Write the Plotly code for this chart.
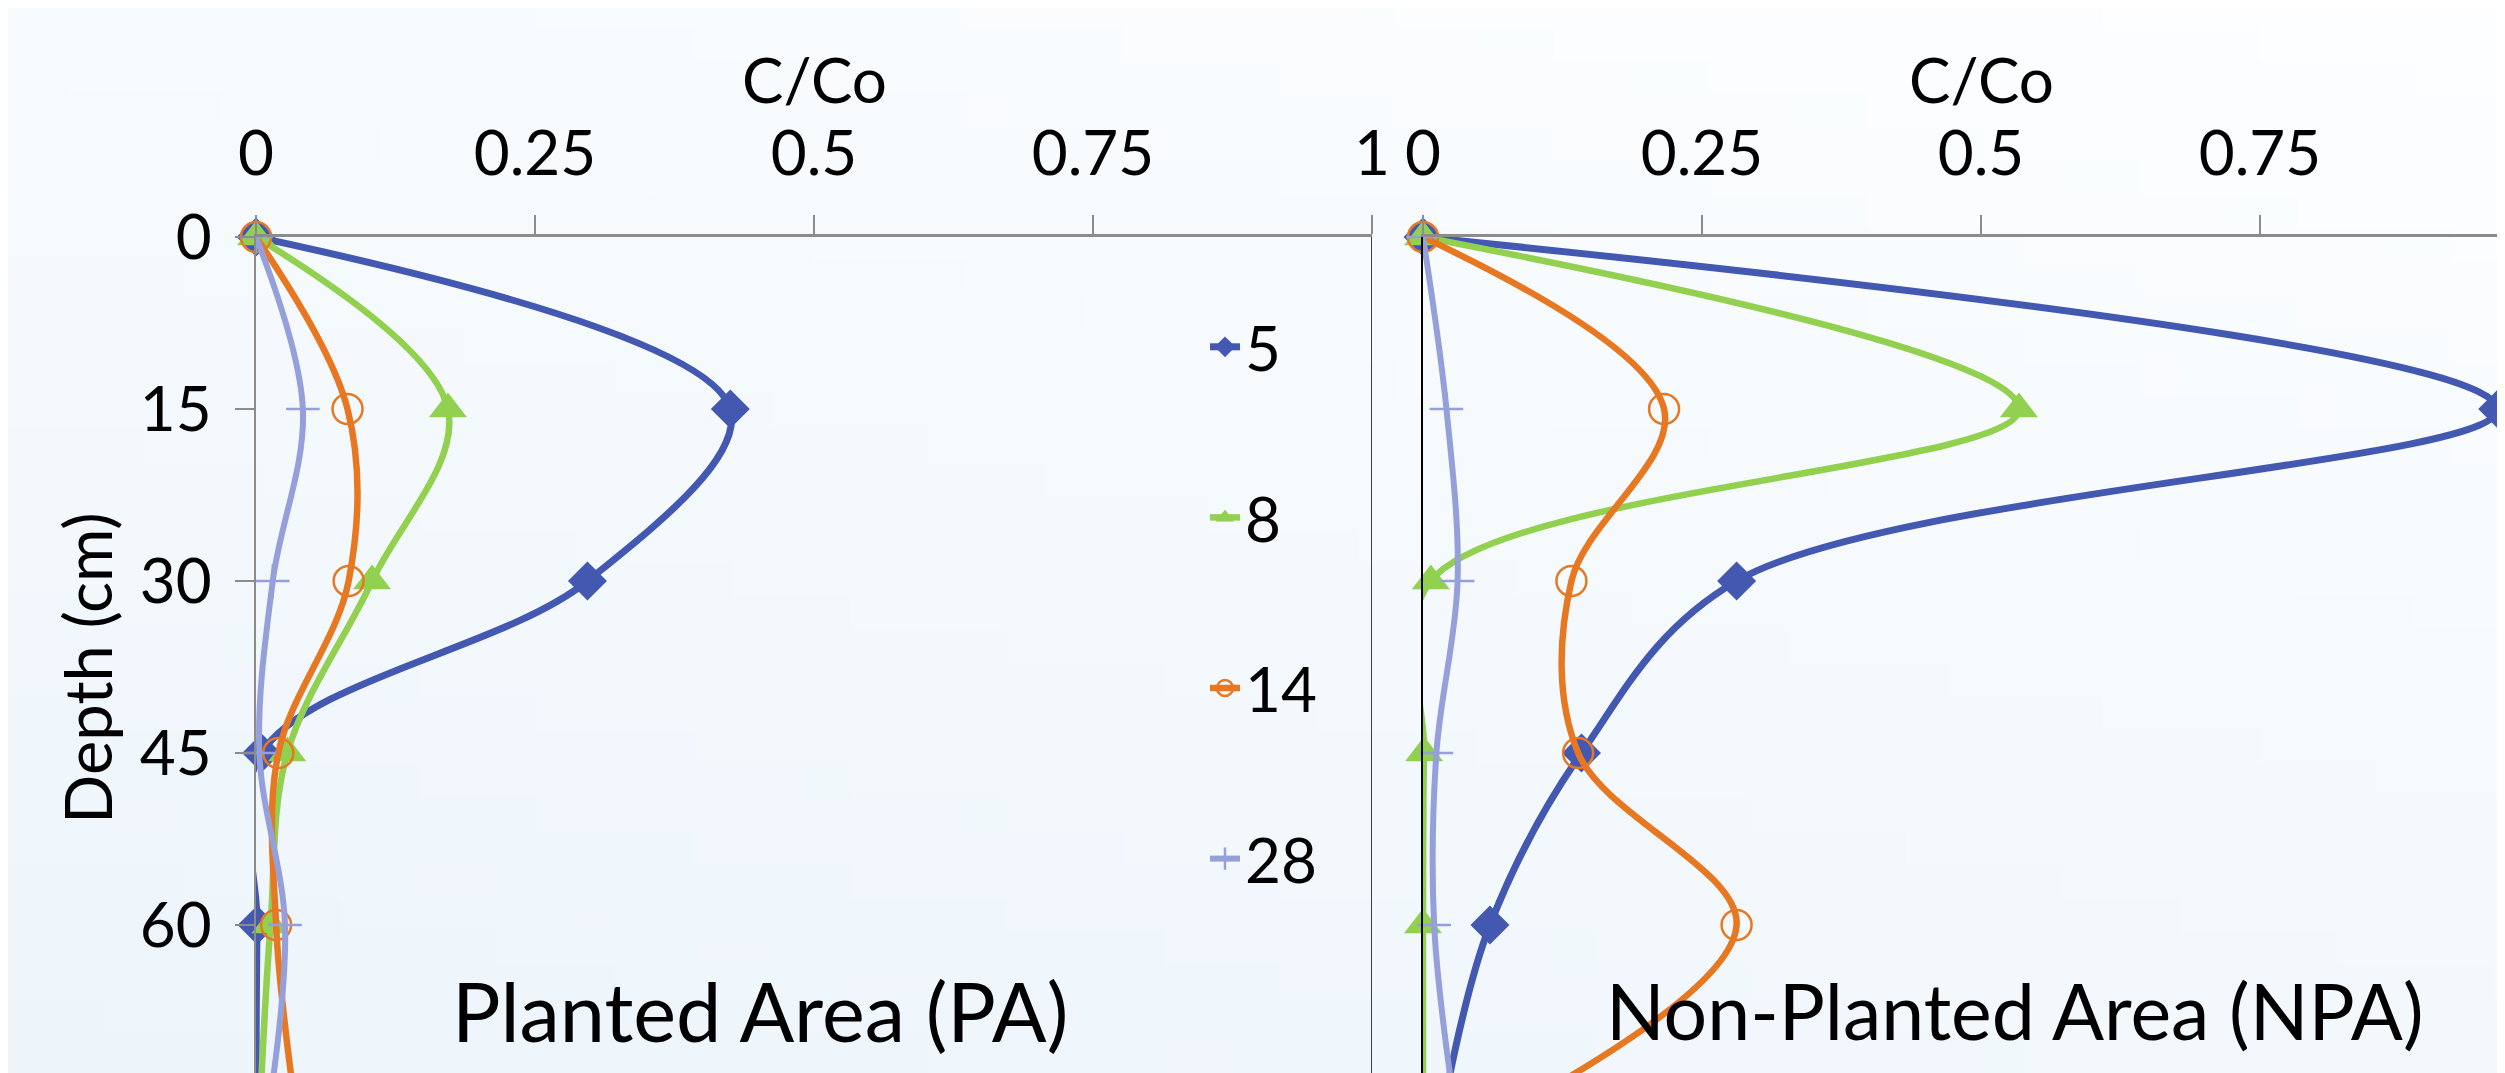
import base64
import struct
import zlib

import plotly.graph_objects as go

# ---------------- data ----------------
depth = [0, 15, 30, 45, 60, 75]
series_names = ["5", "8", "14", "28"]

# Planted Area (PA)
pa_5 = [0.0, 0.425, 0.297, 0.005, 0.001, 0.000]
pa_8 = [0.0, 0.172, 0.104, 0.028, 0.013, 0.004]
pa_14 = [0.0, 0.082, 0.083, 0.020, 0.018, 0.034]
pa_28 = [0.0, 0.042, 0.015, 0.003, 0.026, 0.013]

# Non-Planted Area (NPA)
npa_5 = [0.0, 0.963, 0.281, 0.142, 0.060, 0.020]
npa_8 = [0.0, 0.534, 0.007, 0.001, 0.000, 0.000]
npa_14 = [0.0, 0.216, 0.133, 0.139, 0.281, 0.100]
npa_28 = [0.0, 0.021, 0.031, 0.012, 0.010, 0.027]

x_tickvals = [0, 0.25, 0.5, 0.75, 1]
x_ticktext = ["0", "0.25", "0.5", "0.75", "1"]
y_tickvals = [0, 15, 30, 45, 60, 75]

# ---------------- styling ----------------
W, H = 2505, 1073
OFF = 8  # page body margin: figure is drawn at (8, 8) in the page
FONT = "Lato"
colors = ["#4358B0", "#92D050", "#E87722", "#95A0DA"]
symbols = ["diamond", "triangle-up", "circle-open", "cross-thin"]
msizes = [30, 33, 30, 24]
lwidths = [7, 6.5, 6.5, 6]


def px(X):
    """page x -> paper fraction"""
    return (X - OFF) / W


def py(Y):
    """page y -> paper fraction"""
    return 1 - (Y - OFF) / H


# pixel geometry (page coordinates measured on the reference)
x0_left, x1_left = 256, 1372
x0_right = 1423
px_per_unit = (x1_left - x0_left)
y_top = 237
px_per_cm = 11.467
y_bottom_depth = (H + OFF - y_top) / px_per_cm
right_max = (W + OFF - x0_right) / px_per_unit


# ---------------- background gradient (data-URI PNG) ----------------
def png_data_uri(w, h, fn):
    rows = []
    for yy in range(h):
        row = bytearray([0])
        for xx in range(w):
            row.extend(fn(xx / (w - 1), yy / (h - 1)))
        rows.append(bytes(row))
    raw = b"".join(rows)

    def chunk(tag, data):
        return (struct.pack(">I", len(data)) + tag + data
                + struct.pack(">I", zlib.crc32(tag + data) & 0xFFFFFFFF))

    png = (b"\x89PNG\r\n\x1a\n"
           + chunk(b"IHDR", struct.pack(">IIBBBBB", w, h, 8, 2, 0, 0, 0))
           + chunk(b"IDAT", zlib.compress(raw))
           + chunk(b"IEND", b""))
    return "data:image/png;base64," + base64.b64encode(png).decode()


c_light = (253, 254, 255)
c_dark = (237, 245, 251)


def grad(u, v):
    t = 0.65 * v + 0.35 * (1 - u)
    t = max(0.0, min(1.0, t))
    return tuple(int(round(a + (b - a) * t)) for a, b in zip(c_light, c_dark))


bg_uri = png_data_uri(64, 32, grad)

# ---------------- figure ----------------
fig = go.Figure()

pa_vals = [pa_5, pa_8, pa_14, pa_28]
npa_vals = [npa_5, npa_8, npa_14, npa_28]


def make_marker(i):
    return dict(symbol=symbols[i], size=msizes[i], color=colors[i],
                line=dict(color=colors[i],
                          width=2.5 if symbols[i] in ("cross-thin", "circle-open") else 0))


for i, name in enumerate(series_names):
    fig.add_trace(go.Scatter(
        x=pa_vals[i], y=depth, name=name, mode="lines+markers",
        line=dict(color=colors[i], width=lwidths[i], shape="spline", smoothing=1.0),
        marker=make_marker(i), xaxis="x", yaxis="y", cliponaxis=False,
        legendgroup=name, showlegend=True,
    ))
for i, name in enumerate(series_names):
    fig.add_trace(go.Scatter(
        x=npa_vals[i], y=depth, name=name, mode="lines+markers",
        line=dict(color=colors[i], width=lwidths[i], shape="spline", smoothing=1.0),
        marker=make_marker(i), xaxis="x2", yaxis="y2", cliponaxis=False,
        legendgroup=name, showlegend=False,
    ))

tickfont = dict(family=FONT, size=62, color="black")
axis_gray = "#8C8C8C"

common_x = dict(
    side="top", showgrid=False, zeroline=False, showline=True, automargin=False,
    linecolor=axis_gray, linewidth=2.5, ticks="outside", ticklen=19,
    tickwidth=2, tickcolor=axis_gray, tickvals=x_tickvals, ticktext=x_ticktext,
    tickfont=tickfont, ticklabelstandoff=15,
)

fig.update_layout(
    width=W, height=H,
    margin=dict(l=0, r=0, t=0, b=0, autoexpand=False),
    paper_bgcolor="white",
    plot_bgcolor="rgba(0,0,0,0)",
    font=dict(family=FONT, color="black"),
    xaxis=dict(domain=[px(x0_left), px(x1_left)], range=[0, 1], anchor="y", **common_x),
    xaxis2=dict(domain=[px(x0_right), 1.0], range=[0, right_max], anchor="y2", **common_x),
    yaxis=dict(
        domain=[0, py(y_top)], range=[y_bottom_depth, 0], anchor="x", automargin=False,
        showgrid=False, zeroline=False, showline=True, linecolor=axis_gray, linewidth=2,
        ticks="outside", ticklen=19, tickwidth=2, tickcolor=axis_gray,
        tickvals=y_tickvals, tickfont=tickfont, ticklabelstandoff=11,
    ),
    yaxis2=dict(
        domain=[0, py(y_top)], range=[y_bottom_depth, 0], anchor="x2", automargin=False,
        showgrid=False, zeroline=False, showline=True, linecolor="black", linewidth=1.5,
        ticks="", showticklabels=False,
    ),
    legend=dict(
        x=px(1205), xanchor="left", y=py(300), yanchor="top",
        bgcolor="rgba(0,0,0,0)", borderwidth=0,
        font=dict(family=FONT, size=62, color="black"),
        traceorder="grouped", tracegroupgap=87, itemsizing="trace",
    ),
    images=[dict(source=bg_uri, xref="paper", yref="paper", x=0, y=1,
                 sizex=1, sizey=1, sizing="stretch", layer="below")],
    showlegend=True,
)

# right border of the left panel (black)
fig.add_shape(type="line", xref="x", yref="y domain", x0=1, x1=1, y0=0, y1=1,
              line=dict(color="black", width=1.5))

# axis titles and panel labels
fig.add_annotation(text="C/Co", xref="x", yref="paper", x=0.5, y=py(79),
                   showarrow=False, font=dict(family=FONT, size=62, color="black"),
                   xanchor="center", yanchor="middle")
fig.add_annotation(text="C/Co", xref="x2", yref="paper", x=0.5, y=py(79),
                   showarrow=False, font=dict(family=FONT, size=62, color="black"),
                   xanchor="center", yanchor="middle")
fig.add_annotation(text="Depth (cm)", xref="paper", yref="paper", x=px(87), y=py(668),
                   showarrow=False, textangle=-90,
                   font=dict(family=FONT, size=65, color="black"),
                   xanchor="center", yanchor="middle")
fig.add_annotation(text="Planted Area (PA)", xref="paper", yref="paper", x=px(760), y=py(1010),
                   showarrow=False, font=dict(family=FONT, size=81, color="black"),
                   xanchor="center", yanchor="middle")
fig.add_annotation(text="Non-Planted Area (NPA)", xref="paper", yref="paper", x=px(2015), y=py(1010),
                   showarrow=False, font=dict(family=FONT, size=77, color="black"),
                   xanchor="center", yanchor="middle")
# partially visible "75" tick label at the bottom edge
fig.add_annotation(text="75", xref="paper", yref="paper", x=px(198),
                   y=py(y_top + 75 * px_per_cm),
                   showarrow=False, font=dict(family=FONT, size=62, color="black"),
                   xanchor="right", yanchor="middle")

fig.write_html("out.html")
